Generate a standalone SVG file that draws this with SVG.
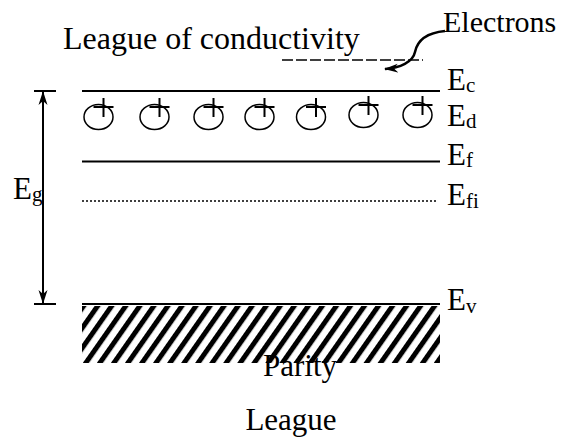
<svg xmlns="http://www.w3.org/2000/svg" width="561" height="442" viewBox="0 0 561 442">
<style>
.t{font-family:"Liberation Serif","Times New Roman",serif;font-size:31px;fill:#000}
.s{font-size:21px}
.ln{stroke:#000;stroke-width:2;fill:none}
.c{stroke:#000;stroke-width:1.5;fill:none}
</style>
<defs>
<pattern id="hatch" width="11.5" height="20" patternUnits="userSpaceOnUse" patternTransform="rotate(35)">
<rect x="0" y="0" width="5" height="20" fill="#000"/>
</pattern>
<marker id="ah2" viewBox="0 0 14 10" refX="13" refY="5" markerWidth="14" markerHeight="10" markerUnits="userSpaceOnUse" orient="auto-start-reverse">
<path d="M0,0.5 L14,5 L0,9.5 L4,5 z" fill="#000"/>
</marker>
<g id="donor">
<ellipse cx="0" cy="0" rx="14.5" ry="12.5" class="c"/>
<path d="M5,-19 V0 M-5,-10 H15" stroke="#000" stroke-width="2"/>
</g>
</defs>

<g id="title"><text class="t" x="63" y="49" style="font-size:32px">League of conductivity</text></g>
<g id="electrons-label"><text class="t" x="443" y="32" style="font-size:30px">Electrons</text></g>

<g id="levels">
<line x1="82" y1="91" x2="440" y2="91" class="ln"/>
<line x1="82" y1="161.5" x2="440" y2="161.5" class="ln"/>
<line x1="82" y1="201" x2="438" y2="201" stroke="#000" stroke-width="1.5" stroke-dasharray="2 2"/>
<line x1="82" y1="304" x2="440" y2="304" class="ln"/>
<rect x="82" y="306" width="358" height="57" fill="url(#hatch)"/>
</g>

<g id="donors">
<use href="#donor" x="98.5" y="117"/>
<use href="#donor" x="154.5" y="117"/>
<use href="#donor" x="208.5" y="117"/>
<use href="#donor" x="259.5" y="117"/>
<use href="#donor" x="311" y="117"/>
<use href="#donor" x="363.5" y="115"/>
<use href="#donor" x="417.5" y="115"/>
</g>

<g id="labels">
<text class="t" x="447" y="90">E<tspan class="s" dy="2">c</tspan></text>
<text class="t" x="447" y="126">E<tspan class="s" dy="2">d</tspan></text>
<text class="t" x="447" y="165">E<tspan class="s" dy="2">f</tspan></text>
<text class="t" x="447" y="205">E<tspan class="s" dy="3">fi</tspan></text>
<text class="t" x="447" y="310">E<tspan class="s" dy="3">v</tspan></text>
<text class="t" x="13" y="199">E<tspan class="s" dy="2">g</tspan></text>
<text class="t" x="300" y="376" text-anchor="middle">Parity</text>
<text class="t" x="291" y="430" text-anchor="middle">League</text>
</g>

<g id="connectors">
<line x1="34" y1="91" x2="56" y2="91" class="ln"/>
<line x1="34" y1="304" x2="56" y2="304" class="ln"/>
<line x1="43" y1="92" x2="43" y2="303" class="ln" marker-start="url(#ah2)" marker-end="url(#ah2)"/>
<line x1="282" y1="60" x2="423" y2="60" stroke="#000" stroke-width="1.5" stroke-dasharray="11 3"/>
<path d="M445,31 C425,33 417,42 415,52 C413,62 400,68 385,69" stroke="#000" stroke-width="2.5" fill="none" marker-end="url(#ah2)"/>
</g>
</svg>
